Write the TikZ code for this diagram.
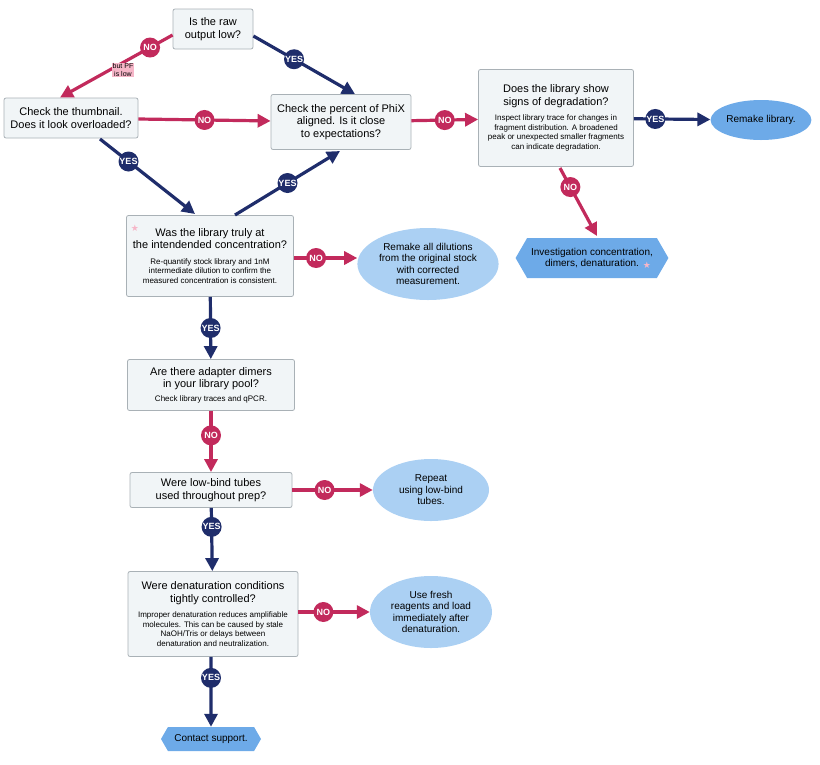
\documentclass[tikz,border=0pt]{standalone}
\usepackage{fontspec}
\setmainfont{Liberation Sans}
\newfontfamily\symf{DejaVu Sans}
\newcommand\smf{\fontsize{8}{9.5}\selectfont}
\usetikzlibrary{arrows.meta,shapes.geometric,shapes.symbols}
\definecolor{navy}{HTML}{1F2D6B}
\definecolor{crim}{HTML}{C22A5C}
\definecolor{boxf}{HTML}{F1F5F7}
\definecolor{boxd}{HTML}{A9B1B6}
\definecolor{ellf}{HTML}{ABD0F3}
\definecolor{ellb}{HTML}{6DAAE8}
\definecolor{pinkl}{HTML}{F6B6C8}
\begin{document}
\begin{tikzpicture}[x=1pt,y=-1pt,
 box/.style={draw=boxd,fill=boxf,rounded corners=2pt,line width=0.8pt,align=center,font=\fontsize{11}{12.5}\selectfont,inner sep=3pt},
 ell/.style={ellipse,fill=ellf,align=center,font=\fontsize{10}{11.5}\selectfont,inner sep=1pt},
 hex/.style={signal,signal to=east and west,signal pointer angle=120,fill=ellb,align=center,font=\fontsize{10}{11.5}\selectfont,inner xsep=4pt},
 yes/.style={draw=navy,line width=3.2pt,-{Triangle[length=13pt,width=13pt]}},
 no/.style={draw=crim,line width=3.2pt,-{Triangle[length=13pt,width=13pt]}},
 yl/.style={circle,fill=navy,text=white,inner sep=0pt,minimum size=20pt,font=\fontsize{9}{9}\selectfont\bfseries},
 nl/.style={circle,fill=crim,text=white,inner sep=0pt,minimum size=20pt,font=\fontsize{9}{9}\selectfont\bfseries},
 star/.style={text=pinkl,font=\symf\fontsize{9}{9}\selectfont,inner sep=0pt}]
\useasboundingbox (0,0) rectangle (820,764);
\node[box,minimum width=80pt,minimum height=40pt] (q1) at (213,29) {Is the raw\\output low?};
\node[box,minimum width=134pt,minimum height=40pt] (th) at (71,118) {Check the thumbnail.\\Does it look overloaded?};
\node[box,minimum width=140pt,minimum height=55pt] (px) at (341,122) {Check the percent of PhiX\\aligned. Is it close\\to expectations?};
\node[box,minimum width=155pt,minimum height=97pt] (dg) at (556,118) {Does the library show\\signs of degradation?\\[3pt]{\smf Inspect library trace for changes in}\\[-3pt]{\smf fragment distribution. A broadened}\\[-3pt]{\smf peak or unexpected smaller fragments}\\[-3pt]{\smf can indicate degradation.}};
\node[ell,fill=ellb,minimum width=86pt,minimum height=40pt] (rl) at (761,120) {Remake library.};
\node[hex,minimum width=150pt,minimum height=40pt] (iv) at (592,258) {Investigation concentration,\\dimers, denaturation.};
\node[star] (s2) at (647,265) {★};
\node[box,minimum width=167pt,minimum height=81pt] (cc) at (210,256) {Was the library truly at\\the intendended concentration?\\[3pt]{\smf Re-quantify stock library and 1nM}\\[-3pt]{\smf intermediate dilution to confirm the}\\[-3pt]{\smf measured concentration is consistent.}};
\node[star] (s1) at (135,228) {★};
\node[ell,minimum width=122pt,minimum height=72pt] (rd) at (428,264) {Remake all dilutions\\from the original stock\\with corrected\\measurement.};
\node[box,minimum width=167pt,minimum height=51pt] (dm) at (211,385) {Are there adapter dimers\\in your library pool?\\[1pt]{\smf Check library traces and qPCR.}};
\node[box,minimum width=162pt,minimum height=35pt] (lb) at (211,490) {Were low-bind tubes\\used throughout prep?};
\node[ell,minimum width=116pt,minimum height=62pt] (rp) at (431,490) {Repeat\\using low-bind\\tubes.};
\node[box,minimum width=170pt,minimum height=85pt] (dn) at (213,614) {Were denaturation conditions\\tightly controlled?\\[3pt]{\smf Improper denaturation reduces amplifiable}\\[-3pt]{\smf molecules. This can be caused by stale}\\[-3pt]{\smf NaOH/Tris or delays between}\\[-3pt]{\smf denaturation and neutralization.}};
\node[ell,minimum width=122pt,minimum height=72pt] (fr) at (431,612) {Use fresh\\reagents and load\\immediately after\\denaturation.};
\node[hex,minimum width=100pt,minimum height=24pt] (cs) at (211,739) {Contact support.};
% edges
\draw[no] (q1.west |- 0,35) -- node[nl,pos=0.2]{NO} (th.north -| 60,0);
\node[fill=pinkl,inner sep=1pt,align=center,font=\fontsize{7}{7.5}\selectfont] (pf) at (123,70) {but PF\\is low};
\draw[yes] (q1.east |- 0,36) -- node[yl,pos=0.4]{YES} (px.north -| 355,0);
\draw[no] (th) -- node[nl]{NO} (px);
\draw[yes] (100,139) -- node[yl,pos=0.3]{YES} (195,214);
\coordinate (cy) at (235,215);
\draw[yes] (cy) -- node[yl,pos=0.5]{YES} (340,151);
\draw[no] (px) -- node[nl]{NO} (dg);
\draw[yes] (dg) -- node[yl,pos=0.28]{YES} (rl);
\draw[no] (560,168) -- node[nl,pos=0.28]{NO} (597,236);
\draw[no] (cc.east |- 0,258) -- node[nl,pos=0.35]{NO} (rd.west |- 0,258);
\draw[yes] (cc) -- node[yl,pos=0.5]{YES} (dm);
\draw[no] (dm) -- node[nl,pos=0.4]{NO} (lb);
\draw[no] (lb) -- node[nl,pos=0.4]{NO} (rp);
\draw[yes] (lb) -- node[yl,pos=0.3]{YES} (dn);
\draw[no] (dn.east |- 0,612) -- node[nl,pos=0.35]{NO} (fr);
\draw[yes] (dn.south -| 211,0) -- node[yl,pos=0.3]{YES} (cs);
\end{tikzpicture}
\end{document}
